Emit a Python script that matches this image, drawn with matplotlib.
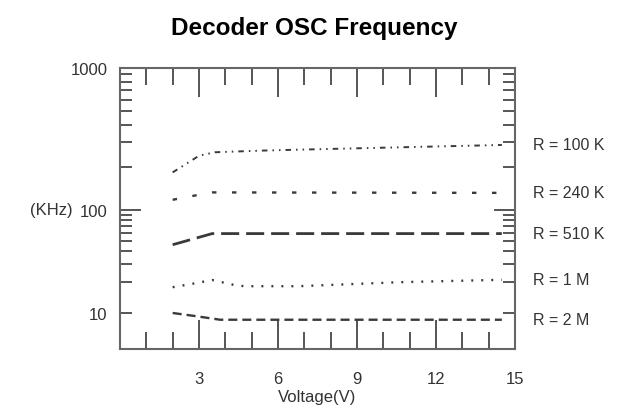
import numpy as np
import matplotlib
matplotlib.use('Agg')
import matplotlib.pyplot as plt
import matplotlib.ticker as mticker
import matplotlib.transforms as mtransforms

plt.rcParams['font.family'] = ['Liberation Sans', 'DejaVu Sans']
plt.rcParams['lines.scale_dashes'] = False

# data (frequency in KHz vs supply voltage)
labels = ['R = 100 K', 'R = 240 K', 'R = 510 K', 'R = 1 M', 'R = 2 M']
v_100k = [2, 3, 3.6, 5.4, 6.8, 10.5, 14.5]
f_100k = [184, 241, 255, 262, 266, 276, 287]
v_240k = [2, 2.8, 3.5, 14.5]
f_240k = [118, 126, 133, 132]
v_510k = [2, 3.5, 14.5]
f_510k = [46, 59, 59]
v_1m = [2, 2.7, 3.5, 4.3, 4.7, 6.8, 10.6, 14.5]
f_1m = [17.8, 19.1, 20.9, 18.8, 18.2, 18.2, 19.9, 21.0]
v_2m = [2, 2.9, 3.8, 14.5]
f_2m = [10, 9.3, 8.6, 8.6]

x_major = [3, 6, 9, 12, 15]
x_minor = [1, 2, 4, 5, 7, 8, 10, 11, 13, 14]
y_minor = [10, 20, 30, 40, 50, 60, 70, 80, 90,
           200, 300, 400, 500, 600, 700, 800, 900, 1000]

# the original's upper decade is drawn taller than the lower one
K = 142 / 103


def fwd(y):
    t = np.log10(np.maximum(np.asarray(y, dtype=float), 1e-9))
    return np.where(t <= 2, t, 2 + (t - 2) * K)


def inv(f):
    f = np.asarray(f, dtype=float)
    t = np.where(f <= 2, f, 2 + (f - 2) / K)
    return 10 ** t


fig = plt.figure(figsize=(6.22, 4.10), dpi=100)
ax = fig.add_axes([120 / 622, 1 - 350 / 410, 395 / 622, 281 / 410])
ax.set_yscale('function', functions=(fwd, inv))

col = '#333333'
lcol = '#3a3a3a'
styles = [
    (v_100k, f_100k, 1.4, (0, (4, 3.6, 1.1, 3.6, 1.1, 3.6))),
    (v_240k, f_240k, 1.7, (0, (3.2, 11.2))),
    (v_510k, f_510k, 2.0, (0, (13, 5))),
    (v_1m, f_1m, 1.7, (0, (1.4, 5.8))),
    (v_2m, f_2m, 1.7, (0, (6.5, 3.6))),
]
trans = mtransforms.blended_transform_factory(ax.transAxes, ax.transData)
for (vx, fy, lw, ls), name in zip(styles, labels):
    ax.plot(vx, fy, color=lcol, lw=lw, linestyle=ls)
    ax.text(1.046, fy[-1], name, transform=trans, va='center', ha='left',
            fontsize=11.5, color=col)

ax.set_xlim(0, 15)
ax.set_ylim(4.47, 1000)

ax.xaxis.set_major_locator(mticker.FixedLocator(x_major))
ax.xaxis.set_minor_locator(mticker.FixedLocator(x_minor))
ax.yaxis.set_major_locator(mticker.FixedLocator([100]))
ax.yaxis.set_minor_locator(mticker.FixedLocator(y_minor))
ax.yaxis.set_major_formatter(mticker.FuncFormatter(lambda v, p: '100'))
ax.yaxis.set_minor_formatter(mticker.FuncFormatter(
    lambda v, p: f'{v:g}' if v in (10, 1000) else ''))

tcol = '#555555'
ax.tick_params(which='both', direction='in', top=True, right=True,
               color=tcol, width=1.4, labelcolor=col, labelsize=12)
ax.tick_params(axis='x', which='major', length=21, pad=16)
ax.tick_params(axis='x', which='minor', length=12.5, pad=16)
ax.tick_params(axis='y', which='major', length=15, pad=9)
ax.tick_params(axis='y', which='minor', length=8.5, pad=9)

for s in ax.spines.values():
    s.set_color('#666666')
    s.set_linewidth(1.5)

ax.set_xlabel('Voltage(V)', fontsize=12, color=col, labelpad=2)
ax.text(-0.119, 100, '(KHz)', transform=trans, ha='right', va='center',
        fontsize=12, color=col)

fig.suptitle('Decoder OSC Frequency', x=0.506, y=1 - 28 / 410, va='center',
             fontsize=17.5, fontweight='bold')

fig.savefig('out.png', dpi=100)
